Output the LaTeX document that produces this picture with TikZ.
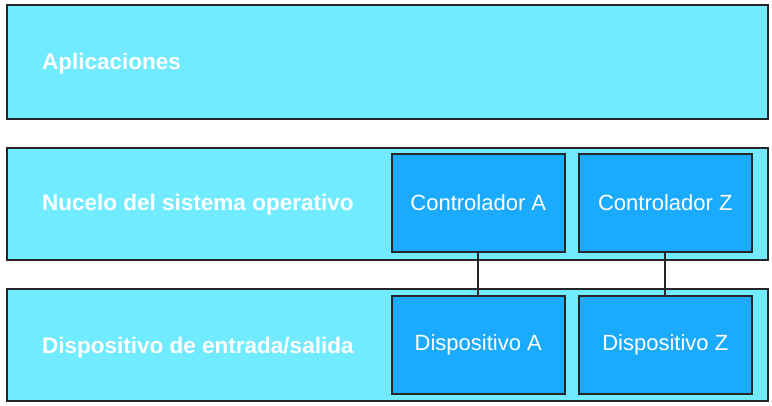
\documentclass[tikz,border=0pt]{standalone}
\usepackage{fontspec}
\setmainfont{Liberation Sans}
\usetikzlibrary{positioning}
\definecolor{layercyan}{HTML}{70EBFF}
\definecolor{unitblue}{HTML}{1AABFF}

\begin{document}
\begin{tikzpicture}[x=1pt, y=-1pt,
  layer/.style={draw=black!85, fill=layercyan, line width=1.6pt, minimum width=761pt, anchor=north west},
  unit/.style={draw=black!85, fill=unitblue, line width=1.6pt, minimum width=173pt, minimum height=98pt, anchor=north west, text=white, font=\fontsize{22}{26}\selectfont},
  caption/.style={text=white, anchor=west, inner sep=0pt, font=\fontsize{22.5}{26}\selectfont\bfseries}]
  \useasboundingbox (0,0) rectangle (772,405);
  \node[layer, minimum height=114pt] (apps) at (6,4) {};
  \node[layer, minimum height=112pt] (kernel) at (6,147) {};
  \node[layer, minimum height=112pt] (io) at (6,288) {};
  \node[caption] at (42,64) {Aplicaciones};
  \node[caption] at (42,205) {Nucelo del sistema operativo};
  \node[caption] at (42,348) {Dispositivo de entrada/salida};
  \node[unit] (ctla) at (391,153) {Controlador A};
  \node[unit] (ctlz) at (578,153) {Controlador Z};
  \node[unit] (deva) at (391,295) {Dispositivo A};
  \node[unit] (devz) at (578,295) {Dispositivo Z};
  \draw[line width=1.8pt, black!85] (ctla) -- (deva);
  \draw[line width=1.8pt, black!85] (ctlz) -- (devz);
\end{tikzpicture}
\end{document}
